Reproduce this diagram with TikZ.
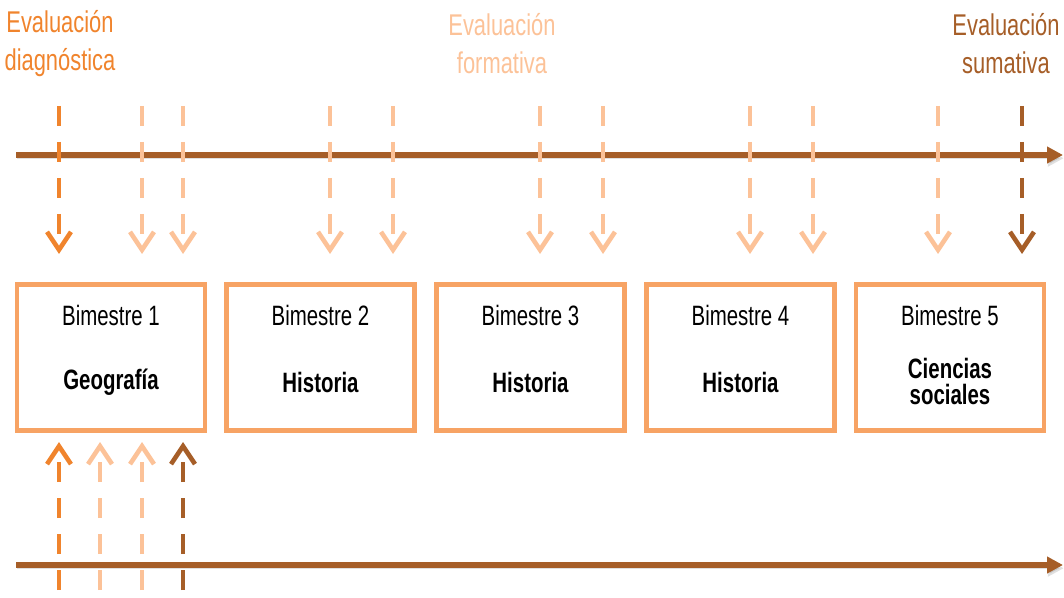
\documentclass[tikz,border=0pt]{standalone}
\usepackage{fontspec}
\usepackage{tikz}
\usetikzlibrary{arrows.meta}
\newfontfamily\narrowfont[FakeStretch=0.73]{Liberation Sans}
\definecolor{diag}{RGB}{240,132,45}
\definecolor{form}{RGB}{252,194,152}
\definecolor{suma}{RGB}{166,94,40}
\definecolor{marco}{RGB}{247,163,100}

\begin{document}
\begin{tikzpicture}[x=0.5pt,y=-0.5pt,
    sombra/.style={preaction={draw=black,opacity=0.12,transform canvas={shift={(0.4pt,-1.6pt)}}}},
    eje/.style={sombra,line width=2.6pt,draw=suma,-{Triangle[length=8pt,width=8pt]}},
    marca/.style={line width=2.3pt,dash pattern=on 10pt off 8pt,
        -{Straight Barb[length=9pt,width=12pt,line width=2.3pt]}},
    caja/.style={draw=marco,line width=2.25pt,minimum width=94pt,minimum height=73pt},
    tit/.style={font=\narrowfont\fontsize{14}{16}\selectfont},
    mat/.style={font=\narrowfont\bfseries\fontsize{14}{16}\selectfont},
    etiq/.style={align=center,font=\narrowfont\fontsize{15}{19}\selectfont}]
    \useasboundingbox (0,0) rectangle (1064,598);

    % lineas de tiempo
    \coordinate (i1) at (16,155);
    \coordinate (f1) at (1063,155);
    \coordinate (i2) at (16,565);
    \coordinate (f2) at (1063,565);
    \draw [eje] (i1) -- (f1);
    \draw [eje] (i2) -- (f2);

    % etiquetas
    \node [etiq,text=diag] (ed) at (60,44) {Evaluación\\diagnóstica};
    \node [etiq,text=form] (ef) at (502,44) {Evaluación\\formativa};
    \node [etiq,text=suma] (es) at (1006,44) {Evaluación\\sumativa};

    % bimestres
    \node [caja] (b1) at (111,357.5) {};
    \node [caja] (b2) at (320.5,357.5) {};
    \node [caja] (b3) at (530.5,357.5) {};
    \node [caja] (b4) at (740.5,357.5) {};
    \node [caja] (b5) at (950,357.5) {};
    \foreach \i/\x/\m in {1/111/Geografía,2/320.5/Historia,3/530.5/Historia,4/740.5/Historia}{
        \node [tit] (t\i) at (\x,315) {Bimestre \i};
        \node [mat] (m\i) at (\x,382) {\m};
    }
    \node [tit] (t5) at (950,315) {Bimestre 5};
    \node [mat,align=center,font=\narrowfont\bfseries\fontsize{14}{13}\selectfont] (m5) at (950,381.5) {Ciencias\\sociales};

    % marcas de evaluacion
    \foreach \x/\c [count=\k] in {59/diag,142/form,183/form,330/form,393/form,540/form,
            603/form,750/form,813/form,938/form,1022/suma}{
        \coordinate (a\k) at (\x,106);
        \coordinate (p\k) at (\x,254);
        \draw [marca,draw=\c] (a\k) -- (p\k);
    }
    \foreach \x/\c [count=\k] in {59/diag,100/form,142/form,183/suma}{
        \coordinate (r\k) at (\x,590);
        \coordinate (q\k) at (\x,442);
        \draw [marca,draw=\c] (r\k) -- (q\k);
    }
\end{tikzpicture}
\end{document}
